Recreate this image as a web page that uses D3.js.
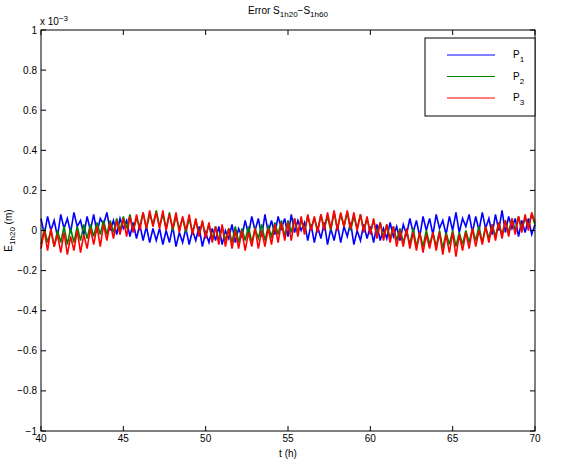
<!DOCTYPE html>
<html>
<head>
<meta charset="utf-8">
<script src="https://cdn.jsdelivr.net/npm/d3@7"></script>
<style>
body { margin: 0; background: #fff; }
text { font-family: "Liberation Sans", Arial, sans-serif; font-size: 10px; }
</style>
</head>
<body>
<svg id="chart" width="561" height="461"></svg>
<script>
// values in units of 1e-4 m, sampled every 0.2 h from 40 to 70
const tStart = 40, tStep = 0.2;
const p1 = [0.6,-0.2,0.7,0.0,0.5,-0.3,0.8,0.1,0.6,-0.1,0.9,0.2,0.5,-0.2,0.7,0.0,0.8,-0.1,0.6,0.3,0.9,0.0,0.5,-0.2,0.6,0.1,
    0.5,-0.3,0.4,-0.4,0.3,-0.5,0.2,-0.6,0.1,-0.5,
    0.1,-0.7,0.0,-0.6,0.2,-0.8,-0.1,-0.6,0.1,-0.7,0.0,-0.5,0.2,-0.8,-0.1,-0.6,0.1,-0.5,0.2,-0.7,0.0,-0.4,0.3,-0.6,0.1,
    -0.3,0.5,-0.2,0.7,0.0,0.6,-0.3,0.8,-0.1,0.5,-0.2,0.7,0.1,0.6,-0.3,0.8,-0.1,0.5,0.0,0.4,
    -0.5,0.3,-0.6,0.2,-0.4,0.4,-0.7,0.1,-0.5,0.3,-0.6,0.2,-0.3,0.4,-0.7,0.0,-0.5,0.3,-0.4,0.2,-0.6,0.3,-0.5,0.1,-0.4,0.4,-0.3,0.2,-0.5,0.3,
    -0.2,0.6,-0.1,0.5,-0.3,0.7,0.0,0.6,-0.2,0.8,0.1,0.5,-0.2,0.7,0.0,0.9,-0.1,0.6,0.2,0.8,-0.1,0.7,0.0,0.9,0.1,0.6,-0.2,0.8,0.0,1.0,-0.1,0.7,0.1,0.6,-0.3,0.5,-0.1,0.6,-0.2,0.3];
const p2 = [-0.7,0.1,-0.6,0.0,-0.8, 0.0,-0.6,0.2,-0.7,0.1, -0.6,0.2,-0.5,0.3,-0.4, 0.3,-0.3,0.4,-0.2,0.5,
    -0.2,0.5,-0.1,0.6,0.0, 0.7,0.1,0.8,0.0,0.6, 0.2,0.9,0.1,0.8,0.3, 1.0,0.2,0.8,0.1,0.9,
    0.0,0.7,0.1,0.6,-0.1, 0.6,-0.1,0.5,-0.2,0.4, -0.3,0.3,-0.4,0.2,-0.5, 0.2,-0.5,0.1,-0.6,0.2,
    -0.6,0.1,-0.5,0.2,-0.6, 0.1,-0.4,0.3,-0.5,0.2, -0.3,0.4,-0.2,0.5,-0.3, 0.5,-0.1,0.6,-0.1,0.5,
    0.0,0.7,0.1,0.6,0.0, 0.8,0.1,0.7,0.0,0.9, 0.1,0.8,0.2,0.9,0.0, 0.7,0.1,0.8,0.0,0.6,
    -0.1,0.5,-0.2,0.4,-0.3, 0.3,-0.4,0.2,-0.5,0.1, -0.6,0.0,-0.7,0.1,-0.8, -0.1,-0.8,0.0,-0.7,-0.1,
    -0.8,0.0,-0.9,-0.1,-0.7, 0.0,-0.8,-0.1,-0.7,0.0, -0.6,0.1,-0.5,0.2,-0.6, 0.2,-0.4,0.3,-0.3,0.4,
    -0.2,0.5,-0.1,0.6,0.0, 0.7,0.1,0.6,0.2,0.8, 0.3];
const p3 = [-0.9,0.0,-1.0,0.1,-0.8, -0.2,-1.1,-0.1,-1.2,-0.3, -1.0,0.0,-1.1,-0.2,-0.9, 0.1,-0.7,0.2,-0.8,0.3,
    -0.5,0.4,-0.4,0.5,-0.2, 0.6,-0.3,0.7,-0.1,0.8, 0.0,0.9,0.1,1.0,0.2, 0.9,0.1,1.0,0.0,0.8,
    0.1,0.9,-0.1,0.7,0.0, 0.8,-0.2,0.6,-0.3,0.5, -0.4,0.4,-0.6,0.2,-0.7, 0.3,-0.8,0.1,-0.9,0.0,
    -0.9,0.0,-1.0,-0.1,-0.8, 0.1,-0.9,0.0,-0.8,0.1, -0.7,0.3,-0.6,0.4,-0.5, 0.4,-0.5,0.6,-0.3,0.7,
    -0.2,0.8,0.0,0.7,-0.1, 0.8,0.0,0.9,0.1,1.0, 0.0,0.9,0.2,1.0,0.1, 0.9,0.0,0.8,-0.1,0.7,
    -0.2,0.6,-0.4,0.4,-0.5, 0.3,-0.6,0.2,-0.8,0.0, -0.8,0.1,-0.9,-0.1,-1.0, -0.1,-1.1,-0.2,-0.9,-0.1,
    -1.0,-0.1,-1.2,-0.2,-1.1, -0.1,-1.3,-0.2,-1.0,-0.1, -0.9,0.1,-0.8,0.0,-0.7, 0.2,-0.6,0.3,-0.5,0.4,
    -0.4,0.5,-0.3,0.6,-0.2, 0.7,-0.1,0.8,0.0,0.9, 0.4];
const series = [
    { name: "1", values: p1, color: "#0000ff" },
    { name: "2", values: p2, color: "#008000" },
    { name: "3", values: p3, color: "#ff0000" }
];
const xTicks = [40, 45, 50, 55, 60, 65, 70];
const yTicks = [1, 0.8, 0.6, 0.4, 0.2, 0, -0.2, -0.4, -0.6, -0.8, -1];

const mLeft = 41, mRight = 535, mTop = 30, mBottom = 431;
const svg = d3.select("#chart");
const x = d3.scaleLinear().domain([40, 70]).range([mLeft, mRight]);
const y = d3.scaleLinear().domain([-1, 1]).range([mBottom, mTop]);

const line = d3.line()
    .x((d, i) => x(tStart + i * tStep))
    .y(d => y(d / 10));

series.forEach(s => {
    svg.append("path")
        .attr("d", line(s.values))
        .attr("fill", "none")
        .attr("stroke", s.color)
        .attr("stroke-width", 1.6);
});

// box and inward ticks
svg.append("rect")
    .attr("x", mLeft).attr("y", mTop)
    .attr("width", mRight - mLeft).attr("height", mBottom - mTop)
    .attr("fill", "none").attr("stroke", "#000");

xTicks.forEach(t => {
    svg.append("line").attr("x1", x(t)).attr("x2", x(t)).attr("y1", mBottom).attr("y2", mBottom - 5).attr("stroke", "#000");
    svg.append("line").attr("x1", x(t)).attr("x2", x(t)).attr("y1", mTop).attr("y2", mTop + 5).attr("stroke", "#000");
    svg.append("text").attr("x", x(t)).attr("y", mBottom + 11).attr("text-anchor", "middle").text(t);
});
yTicks.forEach(t => {
    svg.append("line").attr("x1", mLeft).attr("x2", mLeft + 5).attr("y1", y(t)).attr("y2", y(t)).attr("stroke", "#000");
    svg.append("line").attr("x1", mRight).attr("x2", mRight - 5).attr("y1", y(t)).attr("y2", y(t)).attr("stroke", "#000");
    svg.append("text").attr("x", mLeft - 4).attr("y", y(t) + 3.5).attr("text-anchor", "end").text(d3.format("")(t).replace("-", "−"));
});

// exponent label
const ex = svg.append("text").attr("x", 40).attr("y", 25);
ex.append("tspan").text("x 10");
ex.append("tspan").attr("dy", -4).attr("font-size", 8).text("−3");

// title
const title = svg.append("text").attr("x", 288).attr("y", 14).attr("text-anchor", "middle");
title.append("tspan").text("Error S");
title.append("tspan").attr("dy", 3).attr("font-size", 8).text("1h20");
title.append("tspan").attr("dy", -3).text("−S");
title.append("tspan").attr("dy", 3).attr("font-size", 8).text("1h60");

// axis labels
svg.append("text").attr("x", 288).attr("y", 457).attr("text-anchor", "middle").text("t (h)");
const yl = svg.append("text").attr("transform", "translate(12," + y(0) + ") rotate(-90)").attr("text-anchor", "middle");
yl.append("tspan").text("E");
yl.append("tspan").attr("dy", 3).attr("font-size", 8).text("1h20");
yl.append("tspan").attr("dy", -3).text(" (m)");

// legend
const legend = svg.append("g");
legend.append("rect").attr("x", 425).attr("y", 38).attr("width", 110).attr("height", 78)
    .attr("fill", "#fff").attr("stroke", "#000");
series.forEach((s, i) => {
    const ly = 55 + i * 21.5;
    legend.append("line").attr("x1", 447).attr("x2", 495).attr("y1", ly).attr("y2", ly).attr("stroke", s.color);
    const lt = legend.append("text").attr("x", 513).attr("y", ly + 3);
    lt.append("tspan").text("P");
    lt.append("tspan").attr("dy", 4).attr("font-size", 8).text(s.name);
});
</script>
</body>
</html>
